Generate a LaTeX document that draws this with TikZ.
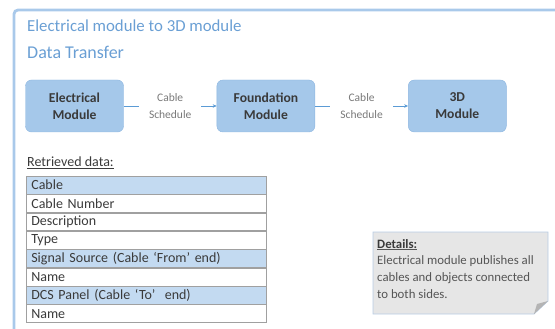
\documentclass[tikz,border=0pt]{standalone}
\usepackage{fontspec}
\setmainfont{Carlito}
\usetikzlibrary{arrows.meta,positioning}
\definecolor{frameblue}{HTML}{A9C9EA}
\definecolor{titleblue}{HTML}{6A9FD4}
\definecolor{modfill}{HTML}{A5C8EA}
\definecolor{modedge}{HTML}{8DB6E0}
\definecolor{linkblue}{HTML}{5B9BD5}
\definecolor{headfill}{HTML}{C3DAF1}
\definecolor{gridgray}{HTML}{A0A0A0}
\definecolor{textdark}{HTML}{3A3A3A}
\definecolor{textgray}{HTML}{7A7A7A}
\definecolor{notetext}{HTML}{555555}
\definecolor{notefill}{HTML}{E6E6E6}
\definecolor{noteedge}{HTML}{B8CCE4}
\definecolor{foldgray}{HTML}{B4B4B4}

\begin{document}
\begin{tikzpicture}[
  x=1pt,y=-1pt,
  frame/.style={draw=frameblue,line width=2.8pt,rounded corners=4pt},
  heading/.style={anchor=west,text=titleblue,inner sep=0pt},
  module/.style={draw=modedge,fill=modfill,rounded corners=6pt,minimum width=98pt,minimum height=52pt,align=center,text=textdark,font=\bfseries\fontsize{13.6}{17}\selectfont},
  flowlabel/.style={fill=white,inner xsep=10pt,align=center,text=textgray,font=\fontsize{11.5}{17}\selectfont},
  link/.style={-{Stealth[length=4pt,width=3.5pt]},draw=linkblue,line width=0.7pt},
  row/.style={draw=gridgray,line width=0.6pt,minimum width=240pt,minimum height=17.75pt,text width=230pt,inner xsep=5pt,inner ysep=0pt,align=left,text=textdark,font=\fontsize{14}{15}\selectfont},
  header/.style={row,fill=headfill},
  note/.style={fill=notefill,draw=noteedge,line width=0.8pt}
]
\useasboundingbox (0,0) rectangle (555,329);

% outer frame, open at the right and bottom
\draw[frame] (556,10) -- (14,10) -- (14,330);

\node[heading,font=\fontsize{16.8}{19}\selectfont] (title) at (27,26) {Electrical module to 3D module};
\node[heading,font=\fontsize{18}{21}\selectfont] (subtitle) at (27,52) {Data Transfer};

% module chain
\node[module] (elec) at (74.5,106) {Electrical\\Module};
\node[module,right=93pt of elec] (found) {Foundation\\Module};
\node[module,right=93pt of found] (threed) {3D\\Module};
\draw[link] (elec) -- node[flowlabel]{Cable\\Schedule} (found);
\draw[link] (found) -- node[flowlabel]{Cable\\Schedule} (threed);

% retrieved data table
\node[anchor=west,inner sep=0pt,text=textdark,font=\fontsize{14}{15}\selectfont] (retr) at (27,163) {\underline{Retrieved data:}};
\node[header,anchor=north west] (cable) at (26,176) {Cable};
\node[row,below=0pt of cable] (cnum) {Cable Number};
\node[row,below=0pt of cnum] (desc) {Description};
\node[row,below=0pt of desc] (type) {Type};
\node[header,below=0pt of type] (source) {Signal Source (Cable ‘From’ end)};
\node[row,below=0pt of source] (srcname) {Name};
\node[header,below=0pt of srcname] (panel) {DCS Panel (Cable ‘To’~ end)};
\node[row,below=0pt of panel] (panelname) {Name};

% details note with folded corner
\draw[note] (373,232) -- (548,232) -- (548,301) -- (534,314) -- (373,314) -- cycle;
\fill[foldgray] (534,314) -- (548,301) -- (537,304) -- cycle;
\node[anchor=north west,align=left,inner sep=0pt,text=notetext,font=\fontsize{12.8}{16.7}\selectfont] (details) at (377,239)
  {\underline{\textbf{\textcolor{textdark}{Details:}}}\\Electrical module publishes all\\cables and objects connected\\to both sides.};
\end{tikzpicture}
\end{document}
